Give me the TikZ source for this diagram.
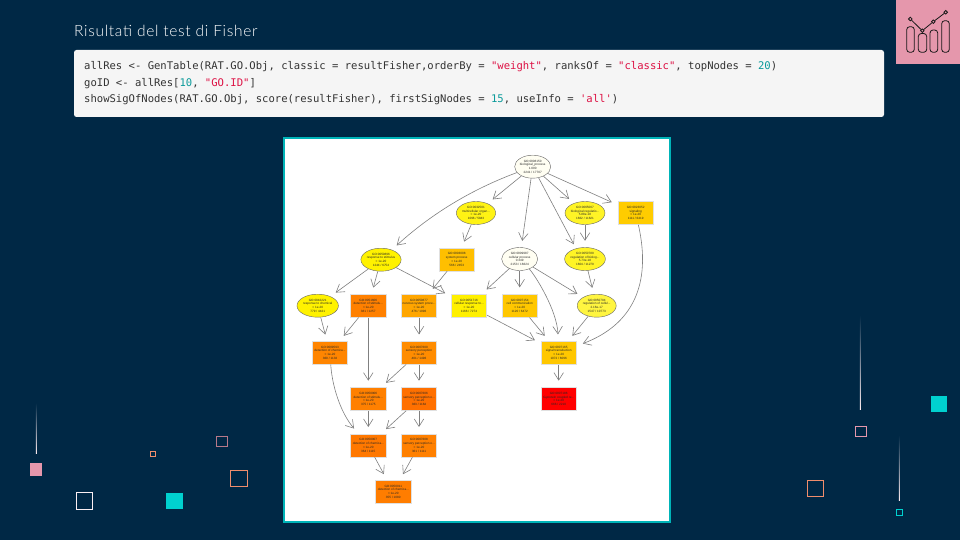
\documentclass[tikz,border=0pt]{standalone}
\usepackage{fontspec}
\usepackage{tikz}
\usetikzlibrary{arrows.meta,shapes.geometric}

\setmainfont{Liberation Sans}
\newfontfamily\titlefont[LetterSpace=4.5]{Lato Light}
\newfontfamily\codefont{DejaVu Sans Mono}

\definecolor{bgnavy}{HTML}{002845}
\definecolor{pinkish}{HTML}{E597AC}
\definecolor{cyanish}{HTML}{00D1CF}
\definecolor{peach}{HTML}{F08D6C}
\definecolor{panelteal}{HTML}{00B4B8}
\definecolor{codestr}{HTML}{DD1144}
\definecolor{codenum}{HTML}{0A9A9A}
\definecolor{codetxt}{HTML}{333333}

\newcommand{\strtok}[1]{\textcolor{codestr}{#1}}
\newcommand{\numtok}[1]{\textcolor{codenum}{#1}}

\tikzset{
	termfont/.style={font=\fontsize{3.1}{3.8}\selectfont,text=black!85,align=center,inner sep=0pt},
	termbox/.style={rectangle,termfont,draw=black!12,line width=0.6pt,fill=#1,minimum width=35.5pt,minimum height=23pt},
	termoval/.style={ellipse,termfont,draw=black!60,line width=0.4pt,fill=#1,minimum width=36pt,minimum height=23pt},
	edge/.style={draw=black!50,line width=0.6pt,shorten >=6.5pt,-{Straight Barb[length=7.5pt,width=9.5pt,line width=0.6pt]}},
	codeline/.style={font=\codefont\fontsize{10.56}{12}\selectfont,text=codetxt,anchor=west,inner sep=0pt},
	bigsquare/.style={fill=#1,draw=none},
	outline/.style={draw=#1,line width=0.9pt,fill=none},
	fadeline/.style={top color=bgnavy,bottom color=white!80!pinkish,draw=none}
}

\begin{document}
\begin{tikzpicture}[x=1pt,y=-1pt]

	\useasboundingbox (0,0) rectangle (960,540);
	\fill [bgnavy] (0,0) rectangle (960,540);

	% title and code
	\node[font=\titlefont\fontsize{15.5}{18}\selectfont,text=white,anchor=west,inner sep=0pt] (title) at (74,31) {Risultati del test di Fisher};

	\fill [black!4,rounded corners=2.5pt] (74,50) rectangle (884,117);
	\node[codeline] (code1) at (84,67) {allRes <- GenTable(RAT.GO.Obj, classic = resultFisher,orderBy = \strtok{"weight"}, ranksOf = \strtok{"classic"}, topNodes = \numtok{20})};
	\node[codeline] (code2) at (84,84) {goID <- allRes[\numtok{10}, \strtok{"GO.ID"}]};
	\node[codeline] (code3) at (84,100) {showSigOfNodes(RAT.GO.Obj, score(resultFisher), firstSigNodes = \numtok{15}, useInfo = \strtok{'all'})};

	% corner icon
	\fill [pinkish] (896,0) rectangle (960,64);
	\draw [black!90,line width=0.8pt,rounded corners=3pt] (906.7,26.7) rectangle (914.3,52.3);
	\draw [black!90,line width=0.8pt,rounded corners=3pt] (918.3,33.5) rectangle (926.7,52.3);
	\draw [black!90,line width=0.8pt,rounded corners=3pt] (930,30) rectangle (937.7,52.3);
	\draw [black!90,line width=0.8pt,rounded corners=3pt] (941.7,20.7) rectangle (949.3,52.3);
	\draw [black!90,line width=0.8pt] (910.3,19) -- (922.3,30.7) -- (933.3,21.7) -- (945.7,12.3);
	\draw [black!90,line width=0.8pt,fill=pinkish] (910.3,19) circle (1.8);
	\draw [black!90,line width=0.8pt,fill=pinkish] (922.3,30.7) circle (1.8);
	\draw [black!90,line width=0.8pt,fill=pinkish] (933.3,21.7) circle (1.8);
	\draw [black!90,line width=0.8pt,fill=pinkish] (945.7,12.3) circle (1.8);

	% decorations, left
	\shade [fadeline] (35.8,402.7) rectangle (36.8,453.3);
	\fill [bigsquare=pinkish] (30,463) rectangle (42,476);
	\draw [outline=white!85!pinkish] (76.5,492.5) rectangle (92.5,509.5);
	\fill [bigsquare=cyanish] (166,493) rectangle (183,509);
	\draw [outline=peach] (150.5,451.5) rectangle (155.5,456.5);
	\draw [outline=pinkish!80!black] (216.5,436.5) rectangle (227.5,446.5);
	\draw [outline=peach] (230.5,470.5) rectangle (247.5,486.5);

	% decorations, right
	\shade [fadeline] (859.8,315) rectangle (860.8,409);
	\fill [bigsquare=cyanish] (931,396) rectangle (947,412);
	\draw [outline=pinkish] (855.5,426.5) rectangle (866.5,436.5);
	\shade [fadeline] (898.8,435) rectangle (899.8,500);
	\draw [outline=cyanish] (896.5,509.5) rectangle (902.5,515.5);
	\draw [outline=peach] (807.5,480.5) rectangle (823.5,496.5);

	% panel
	\draw [panelteal,line width=2pt,fill=white] (284,138) rectangle (670,522);

	% GO terms
	\node[termoval=yellow!5!white] (go8150) at (532.7,166.7) {GO:0008150\\biological\_process\\1.000\\2241 / 17707};

	\node[termoval=yellow!92!white] (go32501) at (476,213) {GO:0032501\\multicellular organ...\\< 1e-20\\1096 / 5843};
	\node[termoval=yellow!85!white] (go65007) at (585,213) {GO:0065007\\biological regulatio...\\5.88e-18\\1662 / 11621};
	\node[termbox=red!20!yellow] (go23052) at (635.7,213) {GO:0023052\\signaling\\< 1e-20\\1111 / 6419};

	\node[termoval=yellow] (go50896) at (381,259.7) {GO:0050896\\response to stimulus\\< 1e-20\\1244 / 6754};
	\node[termbox=red!25!yellow] (go3008) at (456.7,259.5) {GO:0003008\\system process\\< 1e-20\\566 / 2453};
	\node[termoval=yellow!5!white] (go9987) at (519.7,259) {GO:0009987\\cellular process\\0.349\\2153 / 16624};
	\node[termoval=yellow!85!white] (go50789) at (585,259) {GO:0050789\\regulation of biolog...\\5.73e-18\\1604 / 11279};

	\node[termoval=yellow] (go42221) at (317.7,305.7) {GO:0042221\\response to chemical\\< 1e-20\\779 / 4421};
	\node[termbox=red!50!yellow] (go51606) at (368.3,305.7) {GO:0051606\\detection of stimulu...\\< 1e-20\\381 / 1257};
	\node[termbox=red!35!yellow] (go50877) at (419,305.7) {GO:0050877\\nervous system proce...\\< 1e-20\\476 / 1996};
	\node[termbox=red!6!yellow] (go51716) at (469,305.7) {GO:0051716\\cellular response to...\\< 1e-20\\1166 / 7274};
	\node[termbox=red!22!yellow] (go7154) at (519.7,305.7) {GO:0007154\\cell communication\\< 1e-20\\1120 / 6472};
	\node[termoval=yellow!75!white] (go50794) at (596.7,305.7) {GO:0050794\\regulation of cellul...\\2.16e-17\\1547 / 10773};

	\node[termbox=red!48!yellow] (go9593) at (330,352.7) {GO:0009593\\detection of chemica...\\< 1e-20\\360 / 1133};
	\node[termbox=red!45!yellow] (go7600) at (419,352.7) {GO:0007600\\sensory perception\\< 1e-20\\401 / 1496};
	\node[termbox=red!22!yellow] (go7165) at (558.7,352.7) {GO:0007165\\signal transduction\\< 1e-20\\1072 / 6096};

	\node[termbox=red!50!yellow] (go50906) at (368.3,399) {GO:0050906\\detection of stimulu...\\< 1e-20\\375 / 1175};
	\node[termbox=red!56!yellow] (go7606) at (419,399) {GO:0007606\\sensory perception o...\\< 1e-20\\363 / 1164};
	\node[termbox=red] (go7186) at (558.7,399) {GO:0007186\\G-protein coupled re...\\< 1e-20\\666 / 2210};

	\node[termbox=red!53!yellow] (go50907) at (368.3,445.3) {GO:0050907\\detection of chemica...\\< 1e-20\\364 / 1115};
	\node[termbox=red!50!yellow] (go7608) at (419,445.3) {GO:0007608\\sensory perception o...\\< 1e-20\\361 / 1111};

	\node[termbox=red!51!yellow] (go50911) at (393.3,491.7) {GO:0050911\\detection of chemica...\\< 1e-20\\355 / 1080};

	% edges
	\draw [edge] (go8150) .. controls (470,190) and (430,215) .. (go50896);
	\draw [edge] (go8150) -- (go32501);
	\draw [edge] (go8150) -- (go9987);
	\draw [edge] (go8150) -- ([shift={(-8.1,-9)}]go50789.center);
	\draw [edge] (go8150) -- (go65007);
	\draw [edge] (go8150) -- (go23052);

	\draw [edge] (go32501) -- (go3008);
	\draw [edge] (go65007) -- (go50789);
	\draw [edge] (go23052) .. controls (652,285) and (632,325) .. (go7165);

	\draw [edge] (go50896) -- (go42221);
	\draw [edge] (go50896) -- (go51606);
	\draw [edge] (go50896) -- (go51716);
	\draw [edge] (go3008) -- (go50877);
	\draw [edge] (go9987) -- (go51716);
	\draw [edge] (go9987) -- (go7154);
	\draw [edge] (go9987) .. controls (535,275) and (557,310) .. (go7165);
	\draw [edge] (go9987) -- (go50794);
	\draw [edge] (go50789) -- (go50794);

	\draw [edge] (go42221) -- (go9593);
	\draw [edge] (go51606) -- (go9593);
	\draw [edge] (go51606) -- (go50906);
	\draw [edge] (go50877) -- (go7600);
	\draw [edge] (go51716) -- (go7165);
	\draw [edge] (go7154) -- (go7165);
	\draw [edge] (go50794) -- (go7165);

	\draw [edge] (go7600) -- (go50906);
	\draw [edge] (go7600) -- (go7606);
	\draw [edge] (go7165) -- (go7186);

	\draw [edge] (go9593) .. controls (332,385) and (340,412) .. (go50907);
	\draw [edge] (go50906) -- (go50907);
	\draw [edge] (go7606) -- (go50907);
	\draw [edge] (go7606) -- (go7608);

	\draw [edge] (go50907) -- (go50911);
	\draw [edge] (go7608) -- (go50911);

\end{tikzpicture}
\end{document}
